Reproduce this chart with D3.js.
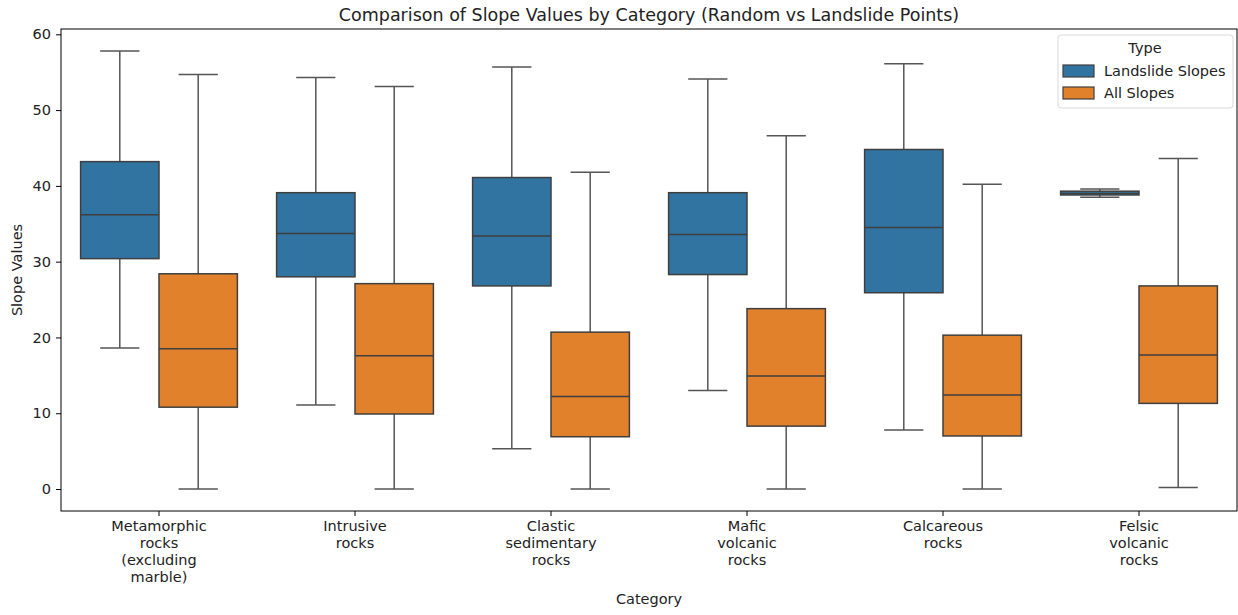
<!DOCTYPE html>
<html>
<head>
<meta charset="utf-8">
<script src="https://cdn.jsdelivr.net/npm/d3@7"></script>
<style>
  body { margin: 0; background: #fff; }
  text { font-family: "DejaVu Sans", sans-serif; }
</style>
</head>
<body>
<svg id="chart" width="1238" height="615"></svg>
<script>
const categories = [
  "Metamorphic rocks (excluding marble)",
  "Intrusive rocks",
  "Clastic sedimentary rocks",
  "Mafic volcanic rocks",
  "Calcareous rocks",
  "Felsic volcanic rocks"
];
const categoryLabelLines = [
  ["Metamorphic", "rocks", "(excluding", "marble)"],
  ["Intrusive", "rocks"],
  ["Clastic", "sedimentary", "rocks"],
  ["Mafic", "volcanic", "rocks"],
  ["Calcareous", "rocks"],
  ["Felsic", "volcanic", "rocks"]
];
const seriesNames = ["Landslide Slopes", "All Slopes"];
const seriesColors = ["#3274a1", "#e1812c"];
// [whiskerLow, q1, median, q3, whiskerHigh]
const landslideStats = [
  [18.6, 30.4, 36.2, 43.2, 57.8],
  [11.1, 28.0, 33.7, 39.1, 54.3],
  [5.3, 26.8, 33.4, 41.1, 55.7],
  [13.0, 28.3, 33.6, 39.1, 54.1],
  [7.8, 25.9, 34.5, 44.8, 56.1],
  [38.5, 38.8, 39.0, 39.3, 39.6]
];
const allSlopesStats = [
  [0.0, 10.8, 18.5, 28.4, 54.7],
  [0.0, 9.9, 17.6, 27.1, 53.1],
  [0.0, 6.9, 12.2, 20.7, 41.8],
  [0.0, 8.3, 14.9, 23.8, 46.6],
  [0.0, 7.0, 12.4, 20.3, 40.2],
  [0.2, 11.3, 17.7, 26.8, 43.6]
];
const yTicks = [0, 10, 20, 30, 40, 50, 60];

const svg = d3.select("#chart");
const margin = { left: 61, right: 1, top: 29, bottom: 104 };
const W = 1238, H = 615;
const plotL = margin.left, plotR = W - margin.right, plotT = margin.top, plotB = H - margin.bottom;
const fs = "14.5px";

const x = d3.scaleBand().domain(categories).range([plotL, plotR]).padding(0);
const xHue = d3.scaleBand().domain(seriesNames).range([x.bandwidth() * 0.1, x.bandwidth() * 0.9]).padding(0);
const y = d3.scaleLinear().domain([-2.9, 60.7]).range([plotB, plotT]);

const lineColor = "#3f3f3f";
const whiskerColor = "#555";

// Boxes
const allSeries = [landslideStats, allSlopesStats];
allSeries.forEach((stats, si) => {
  const g = svg.append("g");
  stats.forEach((s, ci) => {
    const x0 = x(categories[ci]) + xHue(seriesNames[si]);
    const w = xHue.bandwidth();
    const cx = x0 + w / 2;
    const capW = w / 2;
    const [lo, q1, med, q3, hi] = s;
    // whiskers
    g.append("line").attr("x1", cx).attr("x2", cx).attr("y1", y(q3)).attr("y2", y(hi))
      .attr("stroke", whiskerColor).attr("stroke-width", 1.5);
    g.append("line").attr("x1", cx).attr("x2", cx).attr("y1", y(q1)).attr("y2", y(lo))
      .attr("stroke", whiskerColor).attr("stroke-width", 1.5);
    g.append("line").attr("x1", cx - capW / 2).attr("x2", cx + capW / 2).attr("y1", y(hi)).attr("y2", y(hi))
      .attr("stroke", whiskerColor).attr("stroke-width", 1.5);
    g.append("line").attr("x1", cx - capW / 2).attr("x2", cx + capW / 2).attr("y1", y(lo)).attr("y2", y(lo))
      .attr("stroke", whiskerColor).attr("stroke-width", 1.5);
    // box
    g.append("rect").attr("x", x0).attr("width", w)
      .attr("y", y(q3)).attr("height", Math.max(0.5, y(q1) - y(q3)))
      .attr("fill", seriesColors[si]).attr("stroke", lineColor).attr("stroke-width", 1.5);
    // median
    g.append("line").attr("x1", x0).attr("x2", x0 + w).attr("y1", y(med)).attr("y2", y(med))
      .attr("stroke", lineColor).attr("stroke-width", 1.5);
  });
});

// Axes frame
svg.append("rect").attr("x", plotL).attr("y", plotT).attr("width", plotR - plotL).attr("height", plotB - plotT)
  .attr("fill", "none").attr("stroke", "#000").attr("stroke-width", 1);

// Y axis
const yAxis = svg.append("g").attr("transform", `translate(${plotL},0)`)
  .call(d3.axisLeft(y).tickValues(yTicks).tickSize(5).tickPadding(5).tickFormat(d3.format("d")));
yAxis.select(".domain").remove();
yAxis.selectAll("text").attr("font-size", fs).attr("fill", "#222").attr("font-family", "DejaVu Sans");
yAxis.selectAll("line").attr("stroke", "#000");

// X axis
const xAxis = svg.append("g").attr("transform", `translate(0,${plotB})`)
  .call(d3.axisBottom(x).tickSize(5).tickFormat(""));
xAxis.select(".domain").remove();
xAxis.selectAll("line").attr("stroke", "#000");
categories.forEach((c, i) => {
  const t = svg.append("text").attr("x", x(c) + x.bandwidth() / 2).attr("y", plotB + 20)
    .attr("text-anchor", "middle").attr("font-size", fs).attr("fill", "#222");
  categoryLabelLines[i].forEach((ln, j) => {
    t.append("tspan").attr("x", x(c) + x.bandwidth() / 2).attr("dy", j === 0 ? 0 : 17).text(ln);
  });
});

// Axis titles
svg.append("text").attr("x", (plotL + plotR) / 2).attr("y", 604).attr("text-anchor", "middle")
  .attr("font-size", fs).attr("fill", "#222").text("Category");
svg.append("text").attr("transform", `translate(22,${(plotT + plotB) / 2}) rotate(-90)`)
  .attr("text-anchor", "middle").attr("font-size", fs).attr("fill", "#222").text("Slope Values");

// Title
svg.append("text").attr("x", (plotL + plotR) / 2).attr("y", 21).attr("text-anchor", "middle")
  .attr("font-size", "17.5px").attr("fill", "#222")
  .text("Comparison of Slope Values by Category (Random vs Landslide Points)");

// Legend
const lg = svg.append("g").attr("transform", "translate(1058,35)");
lg.append("rect").attr("x", 0).attr("y", 0).attr("width", 175).attr("height", 73).attr("rx", 3)
  .attr("fill", "#fff").attr("fill-opacity", 0.8).attr("stroke", "#d9d9d9");
lg.append("text").attr("x", 87).attr("y", 18).attr("text-anchor", "middle").attr("font-size", fs)
  .attr("fill", "#222").text("Type");
seriesNames.forEach((n, i) => {
  const yy = 30 + i * 22;
  lg.append("rect").attr("x", 5).attr("y", yy).attr("width", 31).attr("height", 12)
    .attr("fill", seriesColors[i]).attr("stroke", lineColor).attr("stroke-width", 1.2);
  lg.append("text").attr("x", 46).attr("y", yy + 11).attr("font-size", fs).attr("fill", "#222").text(n);
});
</script>
</body>
</html>
